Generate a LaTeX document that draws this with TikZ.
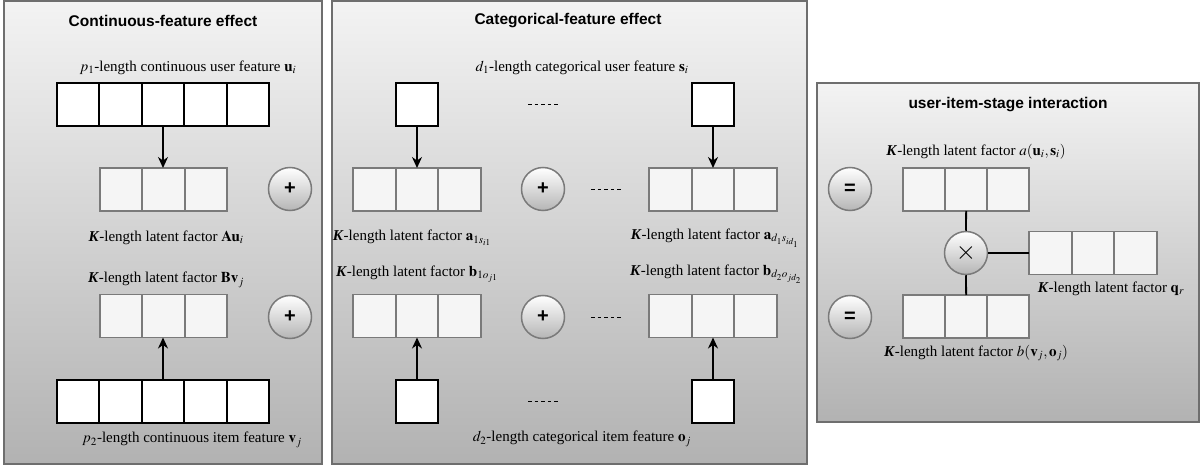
\documentclass[tikz,border=0pt]{standalone}
\usepackage{mathptmx}
\usepackage{fontspec}
\setmainfont{Liberation Serif}
\newfontfamily\hfont{Liberation Sans}
\usetikzlibrary{arrows.meta}
\definecolor{pborder}{HTML}{6E6E6E}
\definecolor{ptop}{HTML}{F3F3F3}
\definecolor{pbot}{HTML}{B2B2B2}
\definecolor{latfill}{HTML}{F5F5F5}
\definecolor{latdraw}{HTML}{7A7A7A}
\definecolor{opbot}{HTML}{B5B5B5}
\newcommand\mkrow[6]{%
  \foreach \k in {1,...,#3}{%
    \node[#2, minimum width=#6pt] (#1-\k) at ({#4+(\k-0.5)*#6}, #5) {};}}
\begin{document}
\begin{tikzpicture}[x=1pt,y=-1pt,
  panel/.style={draw=pborder, line width=2pt, top color=ptop, bottom color=pbot, inner sep=0pt, outer sep=0pt},
  ptitle/.style={font=\hfont\bfseries\fontsize{15.5}{17}\selectfont, inner sep=0pt},
  lbl/.style={font=\fontsize{15}{18}\selectfont, inner sep=0pt},
  bigcell/.style={draw=black, fill=white, line width=2pt, minimum height=43pt, inner sep=0pt, outer sep=0pt},
  latcell/.style={draw=latdraw, fill=latfill, line width=1.8pt, minimum height=43pt, inner sep=0pt, outer sep=0pt},
  opcirc/.style={circle, draw=latdraw, line width=1.5pt, top color=white, bottom color=opbot, minimum size=43pt, inner sep=0pt},
  optext/.style={font=\hfont\bfseries\fontsize{20}{20}\selectfont},
  arr/.style={line width=1.8pt, -{Stealth[length=11pt,width=10pt]}},
  link/.style={line width=1.8pt},
  dots/.style={line width=0.8pt, dash pattern=on 3.6pt off 3pt}]
\useasboundingbox (0,0) rectangle (1202,470);
% panels
\node[panel, minimum width=318pt, minimum height=463pt] (P1) at (163,232.5) {};
\node[panel, minimum width=475pt, minimum height=463pt] (P2) at (569.5,232.5) {};
\node[panel, minimum width=382pt, minimum height=339pt] (P3) at (1008,252.5) {};
\node[ptitle] (T1) at (163,21) {Continuous-feature effect};
\node[ptitle] (T2) at (568,21) {Categorical-feature effect};
\node[ptitle] (T3) at (1008,105) {user-item-stage interaction};
% ---------- panel 1 ----------
\node[lbl] (Lu) at (188,68) {$p_1$-length continuous user feature $\mathbf{u}_i$};
\mkrow{U}{bigcell}{5}{57}{104.5}{42.4}
\mkrow{A}{latcell}{3}{100}{189.5}{42.33}
\node[lbl] (LAu) at (166,238) {\textbf{\textit{K}}-length latent factor $\mathbf{Au}_i$};
\node[lbl] (LBv) at (166,280) {\textbf{\textit{K}}-length latent factor $\mathbf{Bv}_j$};
\mkrow{B}{latcell}{3}{100}{316}{42.33}
\mkrow{V}{bigcell}{5}{57}{401.5}{42.4}
\node[lbl] (Lv) at (192,440) {$p_2$-length continuous item feature $\mathbf{v}_j$};
\draw[arr] (U-3.south) -- (U-3.south |- A-2.north);
\draw[arr] (V-3.north) -- (V-3.north |- B-2.south);
\node[opcirc] (O1) at (290,189) {};
\node[optext] at (O1) {+};
\node[opcirc] (O2) at (290,317) {};
\node[optext] at (O2) {+};
% ---------- panel 2 ----------
\node[lbl] (Ls) at (582,68) {$d_1$-length categorical user feature $\mathbf{s}_i$};
\node[bigcell, minimum width=42.4pt] (S1) at (417,104.5) {};
\node[bigcell, minimum width=42.4pt] (Sd) at (713,104.5) {};
\mkrow{AA}{latcell}{3}{353}{189.5}{42.6}
\mkrow{AD}{latcell}{3}{649}{189.5}{42.6}
\node[lbl] (La1) at (412,238) {\textbf{\textit{K}}-length latent factor $\mathbf{a}_{1s_{i1}}$};
\node[lbl] (Lad) at (715,238) {\textbf{\textit{K}}-length latent factor $\mathbf{a}_{d_1 s_{id_1}}$};
\node[lbl] (Lb1) at (417,274) {\textbf{\textit{K}}-length latent factor $\mathbf{b}_{1o_{j1}}$};
\node[lbl] (Lbd) at (716,274) {\textbf{\textit{K}}-length latent factor $\mathbf{b}_{d_2 o_{jd_2}}$};
\mkrow{BA}{latcell}{3}{353}{316}{42.6}
\mkrow{BD}{latcell}{3}{649}{316}{42.6}
\node[bigcell, minimum width=42.4pt] (O1s) at (417,401.5) {};
\node[bigcell, minimum width=42.4pt] (Ods) at (713,401.5) {};
\node[lbl] (Lo) at (582,439) {$d_2$-length categorical item feature $\mathbf{o}_j$};
\draw[arr] (S1.south) -- (S1.south |- AA-2.north);
\draw[arr] (Sd.south) -- (Sd.south |- AD-2.north);
\draw[arr] (O1s.north) -- (O1s.north |- BA-2.south);
\draw[arr] (Ods.north) -- (Ods.north |- BD-2.south);
\node[opcirc] (O3) at (543,189) {};
\node[optext] at (O3) {+};
\node[opcirc] (O4) at (543,317) {};
\node[optext] at (O4) {+};
\coordinate (d1w) at (528,104); \coordinate (d1e) at (558,104);
\coordinate (d2w) at (591,189); \coordinate (d2e) at (624,189);
\coordinate (d3w) at (591,317); \coordinate (d3e) at (624,317);
\coordinate (d4w) at (528,401); \coordinate (d4e) at (558,401);
\draw[dots] (d1w) -- (d1e);
\draw[dots] (d2w) -- (d2e);
\draw[dots] (d3w) -- (d3e);
\draw[dots] (d4w) -- (d4e);
% ---------- panel 3 ----------
\node[lbl] (Lta) at (976,152) {\textbf{\textit{K}}-length latent factor $a(\mathbf{u}_i,\mathbf{s}_i)$};
\mkrow{TA}{latcell}{3}{903}{189.5}{42.1}
\mkrow{Q}{latcell}{3}{1029}{253}{42.6}
\mkrow{TB}{latcell}{3}{903}{316.5}{42.1}
\node[lbl] (Lq) at (1111,289) {\textbf{\textit{K}}-length latent factor $\mathbf{q}_r$};
\node[lbl] (Ltb) at (976,353) {\textbf{\textit{K}}-length latent factor $b(\mathbf{v}_j,\mathbf{o}_j)$};
\node[opcirc] (E1) at (850,189) {};
\node[optext] at (E1) {=};
\node[opcirc] (E2) at (850,317) {};
\node[optext] at (E2) {=};
\node[opcirc] (X) at (966,253) {};
\node[font=\fontsize{26}{26}\selectfont] at (X) {$\times$};
\draw[link] (TA-2.south) -- (X.north);
\draw[link] (X.east) -- (Q-1.west);
\draw[link] (X.south) -- (TB-2.north);
\end{tikzpicture}
\end{document}
